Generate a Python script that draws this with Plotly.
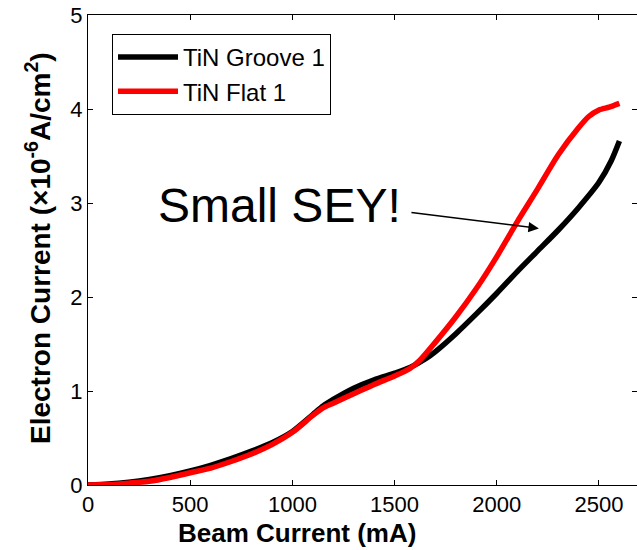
import plotly.graph_objects as go

beam_groove = [0, 100, 200, 300, 400, 500, 600, 700, 800, 900, 1000, 1100, 1150, 1200, 1300, 1400, 1500, 1575,
               1650, 1700, 1800, 1900, 2000, 2100, 2200, 2300, 2400, 2500, 2560, 2600]
cur_groove = [0, 0.01, 0.03, 0.06, 0.1, 0.15, 0.21, 0.28, 0.36, 0.45, 0.57, 0.75, 0.84, 0.91, 1.03, 1.12, 1.19, 1.25,
              1.34, 1.42, 1.61, 1.82, 2.04, 2.27, 2.49, 2.71, 2.95, 3.22, 3.45, 3.66]

beam_flat = [0, 100, 200, 300, 400, 500, 600, 700, 800, 900, 1000, 1100, 1150, 1200, 1300, 1400, 1500, 1575,
             1625, 1700, 1800, 1900, 2000, 2100, 2200, 2300, 2400, 2450, 2500, 2550, 2600]
cur_flat = [0, 0.005, 0.02, 0.04, 0.08, 0.13, 0.18, 0.25, 0.33, 0.43, 0.56, 0.74, 0.82, 0.87, 0.97, 1.07, 1.16, 1.24,
            1.33, 1.52, 1.79, 2.09, 2.43, 2.8, 3.15, 3.51, 3.8, 3.92, 3.99, 4.02, 4.06]

names = ["TiN Groove 1", "TiN Flat 1"]
colors = ["black", "#ff0000"]

x_ticks = [0, 500, 1000, 1500, 2000, 2500]
y_ticks = [0, 1, 2, 3, 4, 5]

FONT = "Liberation Sans, Arial, sans-serif"

fig = go.Figure()
fig.add_trace(go.Scatter(x=beam_groove, y=cur_groove, mode="lines", name=names[0],
                         line=dict(color=colors[0], width=5.5, shape="spline", smoothing=0.7)))
fig.add_trace(go.Scatter(x=beam_flat, y=cur_flat, mode="lines", name=names[1],
                         line=dict(color=colors[1], width=5.5, shape="spline", smoothing=0.7)))

axis_common = dict(showline=True, linecolor="black", linewidth=1, mirror="allticks",
                   ticks="inside", ticklen=5, tickcolor="black", tickwidth=1,
                   showgrid=False, zeroline=False,
                   tickfont=dict(family=FONT, size=22, color="black"))

fig.update_xaxes(range=[0, 2686], tickvals=x_ticks, **axis_common)
fig.update_yaxes(range=[0, 5], tickvals=y_ticks, **axis_common)

fig.add_annotation(text="<b>Beam Current (mA)</b>", xref="paper", yref="paper",
                   x=(297 - 88) / 549, y=(485 - 533) / 470, showarrow=False,
                   font=dict(family=FONT, size=26, color="black"), xanchor="center", yanchor="middle")
fig.add_annotation(text="<b>Electron Current (×10<sup>-6</sup>A/cm<sup>2</sup>)</b>", xref="paper", yref="paper",
                   x=(38 - 88) / 549, y=(485 - 248) / 470, showarrow=False, textangle=-90,
                   font=dict(family=FONT, size=28, color="black"), xanchor="center", yanchor="middle")

fig.add_annotation(text="Small SEY!", xref="paper", yref="paper",
                   x=(279 - 88) / 549, y=(485 - 205) / 470, showarrow=False,
                   font=dict(family=FONT, size=48, color="black"), xanchor="center", yanchor="middle")
fig.add_annotation(text="", x=2206, y=2.73, xref="x", yref="y", axref="x", ayref="y",
                   ax=1575, ay=2.90, showarrow=True, arrowhead=2, arrowsize=1.4, arrowwidth=1.5,
                   arrowcolor="black")

fig.update_layout(
    width=637, height=550,
    margin=dict(l=88, r=0, t=15, b=65),
    paper_bgcolor="white", plot_bgcolor="white",
    showlegend=True,
    legend=dict(x=(112 - 88) / 549, y=(485 - 34) / 470, xanchor="left", yanchor="top",
                bordercolor="black", borderwidth=1, bgcolor="white",
                font=dict(family=FONT, size=24, color="black"), tracegroupgap=0,
                itemwidth=60),
)

fig.write_html("out.html")
